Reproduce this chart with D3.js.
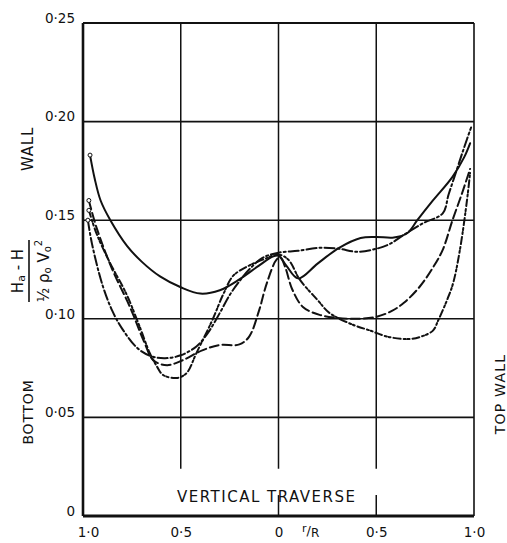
<!DOCTYPE html>
<html>
<head>
<meta charset="utf-8">
<script src="https://cdn.jsdelivr.net/npm/d3@7/dist/d3.min.js"></script>
<style>
  html, body { margin: 0; padding: 0; background: #fff; }
  svg { display: block; }
  text { font-family: "DejaVu Sans", "Liberation Sans", sans-serif; fill: #111; }
</style>
</head>
<body>
<div id="chart"></div>
<script>
// Axis ticks (r/R measured from the centre line, bottom wall on the left, top wall on the right)
const xTicks = [-1, -0.5, 0, 0.5, 1];
const xTickLabels = ["1·0", "0·5", "0", "0·5", "1·0"];
const yTicks = [0, 0.05, 0.10, 0.15, 0.20, 0.25];
const yTickLabels = ["0", "0·05", "0·10", "0·15", "0·20", "0·25"];

// Traverse 1 (solid)
const solidR = [-0.964, -0.94, -0.91, -0.86, -0.775, -0.70, -0.606, -0.50, -0.40, -0.30, -0.20, -0.10, -0.03, 0.0, 0.04, 0.10, 0.20, 0.31, 0.42, 0.50, 0.59, 0.66, 0.71, 0.79, 0.89, 0.95, 0.98];
const solidH = [0.183, 0.171, 0.160, 0.150, 0.137, 0.129, 0.1215, 0.116, 0.1128, 0.1145, 0.120, 0.127, 0.1315, 0.132, 0.127, 0.1205, 0.128, 0.136, 0.141, 0.1415, 0.1412, 0.1435, 0.150, 0.160, 0.172, 0.182, 0.189];

// Traverse 2 (long dash-dot)
const dashDotR = [-0.975, -0.954, -0.90, -0.85, -0.80, -0.72, -0.65, -0.58, -0.50, -0.42, -0.36, -0.30, -0.25, -0.20, -0.15, -0.08, 0.0, 0.10, 0.21, 0.31, 0.40, 0.50, 0.57, 0.64, 0.74, 0.84, 0.87, 0.91, 0.95, 0.985];
const dashDotH = [0.150, 0.138, 0.117, 0.104, 0.095, 0.085, 0.081, 0.080, 0.0815, 0.086, 0.093, 0.103, 0.112, 0.119, 0.125, 0.131, 0.1335, 0.1345, 0.136, 0.1355, 0.134, 0.1355, 0.138, 0.1425, 0.1485, 0.1535, 0.163, 0.175, 0.187, 0.197];

// Traverse 3 (dashed)
const dashedR = [-0.97, -0.93, -0.85, -0.76, -0.69, -0.64, -0.57, -0.49, -0.39, -0.30, -0.20, -0.15, -0.10, -0.06, -0.01, 0.01, 0.035, 0.07, 0.125, 0.21, 0.30, 0.40, 0.50, 0.58, 0.64, 0.72, 0.79, 0.84, 0.89, 0.94, 0.98];
const dashedH = [0.160, 0.146, 0.125, 0.106, 0.089, 0.079, 0.0765, 0.079, 0.084, 0.0867, 0.087, 0.091, 0.104, 0.118, 0.130, 0.131, 0.126, 0.115, 0.106, 0.102, 0.1005, 0.100, 0.101, 0.104, 0.108, 0.116, 0.126, 0.135, 0.150, 0.164, 0.176];

// Traverse 4 (dash-dot-dot)
const dashDot2R = [-0.97, -0.93, -0.86, -0.78, -0.71, -0.66, -0.62, -0.59, -0.52, -0.47, -0.42, -0.34, -0.28, -0.23, -0.15, -0.08, 0.0, 0.05, 0.11, 0.20, 0.26, 0.38, 0.47, 0.555, 0.657, 0.724, 0.79, 0.816, 0.862, 0.893, 0.928, 0.964, 0.98];
const dashDot2H = [0.155, 0.143, 0.128, 0.113, 0.096, 0.083, 0.0755, 0.0715, 0.070, 0.0725, 0.0826, 0.099, 0.113, 0.122, 0.127, 0.130, 0.1325, 0.130, 0.1197, 0.1095, 0.103, 0.097, 0.094, 0.091, 0.0897, 0.0908, 0.094, 0.099, 0.1095, 0.118, 0.135, 0.160, 0.174];

const series = [
  { r: solidR,    h: solidH,    dash: null },
  { r: dashDotR,  h: dashDotH,  dash: "10,3,2,3" },
  { r: dashedR,   h: dashedH,   dash: "9,4" },
  { r: dashDot2R, h: dashDot2H, dash: "7,3,2,2,2,3" }
];

const W = 507, H = 543;
const margin = { left: 83, right: 33, top: 23, bottom: 27 };

const svg = d3.select("#chart").append("svg")
  .attr("width", W).attr("height", H);

const x = d3.scaleLinear().domain([-1, 1]).range([margin.left, W - margin.right]);
const y = d3.scaleLinear().domain([0, 0.25]).range([H - margin.bottom, margin.top]);

const ink = "#111";

// Horizontal grid lines
svg.append("g").selectAll("line")
  .data(yTicks.filter(d => d > 0 && d < 0.25))
  .join("line")
  .attr("x1", x(-1)).attr("x2", x(1))
  .attr("y1", d => y(d)).attr("y2", d => y(d))
  .attr("stroke", ink).attr("stroke-width", 1.6);

// Vertical grid lines, broken where the traverse caption sits
const gapLow = 0.0106, gapHigh = 0.024;
const vGrid = svg.append("g");
vGrid.selectAll("line.upper")
  .data(xTicks.filter(d => d > -1 && d < 1))
  .join("line").attr("class", "upper")
  .attr("x1", d => x(d)).attr("x2", d => x(d))
  .attr("y1", y(0.25)).attr("y2", y(gapHigh))
  .attr("stroke", ink).attr("stroke-width", 1.5);
vGrid.selectAll("line.lower")
  .data(xTicks.filter(d => d >= 0 && d < 1))
  .join("line").attr("class", "lower")
  .attr("x1", d => x(d)).attr("x2", d => x(d))
  .attr("y1", y(gapLow)).attr("y2", y(0))
  .attr("stroke", ink).attr("stroke-width", 1.5);

// Frame
svg.append("line").attr("x1", x(-1)).attr("x2", x(1)).attr("y1", y(0.25)).attr("y2", y(0.25))
  .attr("stroke", ink).attr("stroke-width", 2);
svg.append("line").attr("x1", x(-1)).attr("x2", x(1)).attr("y1", y(0)).attr("y2", y(0))
  .attr("stroke", ink).attr("stroke-width", 3);
svg.append("line").attr("x1", x(-1)).attr("x2", x(-1)).attr("y1", y(0.25)).attr("y2", y(0))
  .attr("stroke", ink).attr("stroke-width", 2.6);
svg.append("line").attr("x1", x(1)).attr("x2", x(1)).attr("y1", y(0.25)).attr("y2", y(0))
  .attr("stroke", ink).attr("stroke-width", 1.6);

// Y tick labels
const yAxis = d3.axisLeft(y).tickValues(yTicks).tickSize(0)
  .tickFormat((d, i) => yTickLabels[i]);
const gy = svg.append("g").attr("transform", `translate(${x(-1) - 5},0)`).call(yAxis);
gy.select(".domain").remove();
gy.selectAll("text")
  .attr("dy", "-0.05em")
  .style("font-size", "13.5px")
  .style("font-family", "'DejaVu Sans', sans-serif")
  .attr("fill", ink);

// X tick labels
const xAxis = d3.axisBottom(x).tickValues(xTicks).tickSize(0)
  .tickFormat((d, i) => xTickLabels[i]);
const gx = svg.append("g").attr("transform", `translate(0,${y(0) + 8})`).call(xAxis);
gx.select(".domain").remove();
gx.selectAll("text")
  .attr("dx", (d, i) => (i === 0 ? 5 : 0))
  .style("font-size", "13.5px")
  .style("font-family", "'DejaVu Sans', sans-serif")
  .attr("fill", ink);

// r/R label
const rr = svg.append("text").attr("x", 302).attr("y", 536).style("font-size", "13px");
rr.append("tspan").text("r").attr("dy", "-4").style("font-size", "11px");
rr.append("tspan").text("/").attr("dy", "3");
rr.append("tspan").text("R").attr("dy", "2").style("font-size", "12px");

// Caption inside plot
svg.append("text")
  .attr("x", (x(-0.52) + x(0.4)) / 2).attr("y", 502)
  .attr("text-anchor", "middle")
  .style("font-size", "15px").style("letter-spacing", "1.5px")
  .text("VERTICAL  TRAVERSE");

// Side labels
function vText(cx, cy, txt, size, spacing) {
  return svg.append("text")
    .attr("transform", `translate(${cx},${cy}) rotate(-90)`)
    .attr("text-anchor", "middle")
    .style("font-size", size + "px")
    .style("letter-spacing", spacing + "px")
    .text(txt);
}
vText(33, 149, "WALL", 15, 0.8);
vText(33, 412, "BOTTOM", 14, 0.8);
vText(505, 394, "TOP WALL", 14, 1.2);

// Ordinate title: (Ha - H) / (½ ρ0 V0²)
const frac = svg.append("g").attr("transform", "translate(0,271) rotate(-90)");
const num = frac.append("text").attr("x", 0).attr("y", 23).attr("text-anchor", "middle")
  .style("font-size", "15px");
num.append("tspan").text("H");
num.append("tspan").text("a").style("font-size", "11px").attr("dy", "2");
num.append("tspan").text(" - H").attr("dy", "-2");
frac.append("line").attr("x1", -31).attr("x2", 31).attr("y1", 29).attr("y2", 29)
  .attr("stroke", ink).attr("stroke-width", 1.6);
const den = frac.append("text").attr("x", 0).attr("y", 49).attr("text-anchor", "middle")
  .style("font-size", "15px");
den.append("tspan").text("½ ρ");
den.append("tspan").text("o").style("font-size", "10px").attr("dy", "2");
den.append("tspan").text(" V").attr("dy", "-2");
den.append("tspan").text("o").style("font-size", "10px").attr("dy", "2");
den.append("tspan").text("2").style("font-size", "10px").attr("dy", "-9");

// Curves
const line = d3.line()
  .x(d => x(d[0]))
  .y(d => y(d[1]))
  .curve(d3.curveCatmullRom.alpha(0.5));

const curves = svg.append("g");
series.forEach(s => {
  const pts = s.r.map((r, i) => [r, s.h[i]]);
  curves.append("path")
    .datum(pts)
    .attr("d", line)
    .attr("fill", "none")
    .attr("stroke", ink)
    .attr("stroke-width", 2)
    .attr("stroke-linecap", "round")
    .attr("stroke-dasharray", s.dash);
  // first measured point at the bottom wall
  curves.append("circle")
    .attr("cx", x(pts[0][0])).attr("cy", y(pts[0][1]))
    .attr("r", 2).attr("fill", "#fff").attr("stroke", ink).attr("stroke-width", 1);
});
</script>
</body>
</html>
